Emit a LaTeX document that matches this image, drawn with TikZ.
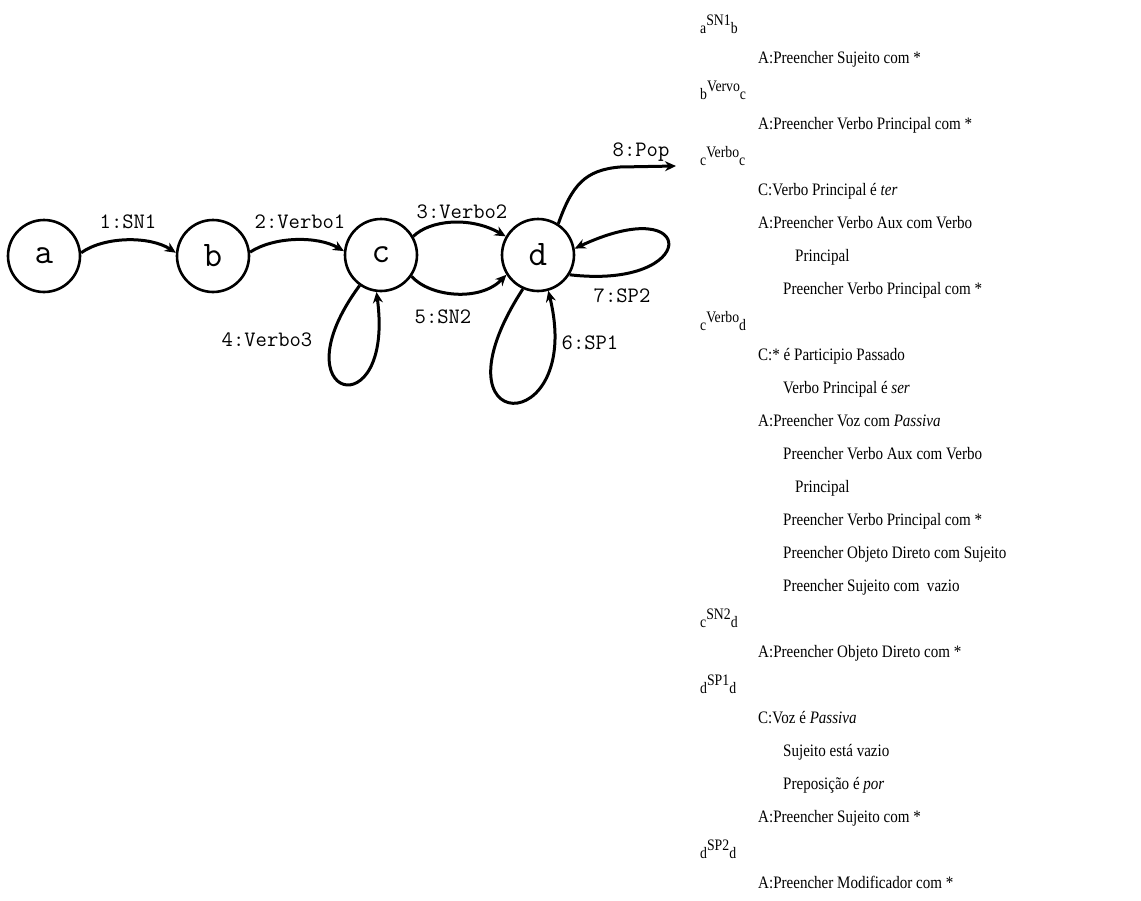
\documentclass[tikz,border=0pt]{standalone}
\usepackage{fontspec}
\setmainfont{Liberation Serif}[FakeStretch=0.86]
\usetikzlibrary{arrows.meta}
\newcommand\hdrline[3]{\raisebox{-3.5pt}{#1}\raisebox{4.5pt}{#2}\raisebox{-3.5pt}{#3}}
\newcommand\lblface{\ttfamily\addfontfeatures{FakeBold=0.8}}
\newcommand\stateface{\ttfamily\addfontfeatures{FakeBold=1.2}}
\begin{document}
\begin{tikzpicture}[x=1pt,y=-1pt,
  state/.style={circle,draw,line width=2.6pt,minimum size=72pt,inner sep=0pt,font=\stateface\fontsize{36}{36}\selectfont},
  edge/.style={line width=3pt,-{Stealth[length=11pt,width=10pt]}},
  elabel/.style={font=\lblface\fontsize{22}{22}\selectfont,inner sep=0pt},
  txt/.style={anchor=base west,inner sep=0pt,font=\fontsize{17.5}{18}\selectfont},
  hdr/.style={anchor=base west,inner sep=0pt,font=\fontsize{16}{18}\selectfont}
]
\useasboundingbox (0,0) rectangle (1141,900);
% states
\node[state] (a) at (44,256) {a};
\node[state] (b) at (213,256) {b};
\node[state] (c) at (381,255) {c};
\node[state] (d) at (538,255) {d};
\coordinate (popend) at (676,166);
% edges
\draw[edge] (a.5) .. controls (105,236) and (150,236) .. (b.175);
\draw[edge] (b.6) .. controls (275,236) and (318,236) .. (c.174);
\draw[edge] (c.30) .. controls (430,220) and (470,216) .. (d.150);
\draw[edge] (c.-35) .. controls (430,297) and (480,302) .. (d.-148);
\draw[edge] (c.-125) .. controls (275,400) and (395,430) .. (c.-97);
\draw[edge] (d.-114) .. controls (425,440) and (585,440) .. (d.-74);
\draw[edge] (d.-32) .. controls (700,290) and (700,190) .. (d.10);
\draw[edge] (d.57) .. controls (572,185) and (585,170) .. (620,167) -- (popend);
% edge labels
\node[elabel] (l1) at (128,222) {1:SN1};
\node[elabel] (l2) at (300,222) {2:Verbo1};
\node[elabel] (l3) at (462,212) {3:Verbo2};
\node[elabel] (l4) at (267,340) {4:Verbo3};
\node[elabel] (l5) at (443,317) {5:SN2};
\node[elabel] (l6) at (590,343) {6:SP1};
\node[elabel] (l7) at (622,296) {7:SP2};
\node[elabel] (l8) at (641,152) {8:Pop};
% text column
\node[hdr] (t1) at (700,30) {\hdrline{a}{SN1}{b}};
\node[txt] (t2) at (758,63) {A:Preencher Sujeito com *};
\node[hdr] (t3) at (700,96) {\hdrline{b}{Vervo}{c}};
\node[txt] (t4) at (758,129) {A:Preencher Verbo Principal com *};
\node[hdr] (t5) at (700,162) {\hdrline{c}{Verbo}{c}};
\node[txt] (t6) at (758,195) {C:Verbo Principal é \textit{ter}};
\node[txt] (t7) at (758,228) {A:Preencher Verbo Aux com Verbo};
\node[txt] (t8) at (795,261) {Principal};
\node[txt] (t9) at (783,294) {Preencher Verbo Principal com *};
\node[hdr] (t10) at (700,327) {\hdrline{c}{Verbo}{d}};
\node[txt] (t11) at (758,360) {C:* é Participio Passado};
\node[txt] (t12) at (783,393) {Verbo Principal é \textit{ser}};
\node[txt] (t13) at (758,426) {A:Preencher Voz com \textit{Passiva}};
\node[txt] (t14) at (783,459) {Preencher Verbo Aux com Verbo};
\node[txt] (t15) at (795,492) {Principal};
\node[txt] (t16) at (783,525) {Preencher Verbo Principal com *};
\node[txt] (t17) at (783,558) {Preencher Objeto Direto com Sujeito};
\node[txt] (t18) at (783,591) {Preencher Sujeito com\ \ vazio};
\node[hdr] (t19) at (700,624) {\hdrline{c}{SN2}{d}};
\node[txt] (t20) at (758,657) {A:Preencher Objeto Direto com *};
\node[hdr] (t21) at (700,690) {\hdrline{d}{SP1}{d}};
\node[txt] (t22) at (758,723) {C:Voz é \textit{Passiva}};
\node[txt] (t23) at (783,756) {Sujeito está vazio};
\node[txt] (t24) at (783,789) {Preposição é \textit{por}};
\node[txt] (t25) at (758,822) {A:Preencher Sujeito com *};
\node[hdr] (t26) at (700,855) {\hdrline{d}{SP2}{d}};
\node[txt] (t27) at (758,888) {A:Preencher Modificador com *};
\end{tikzpicture}
\end{document}
